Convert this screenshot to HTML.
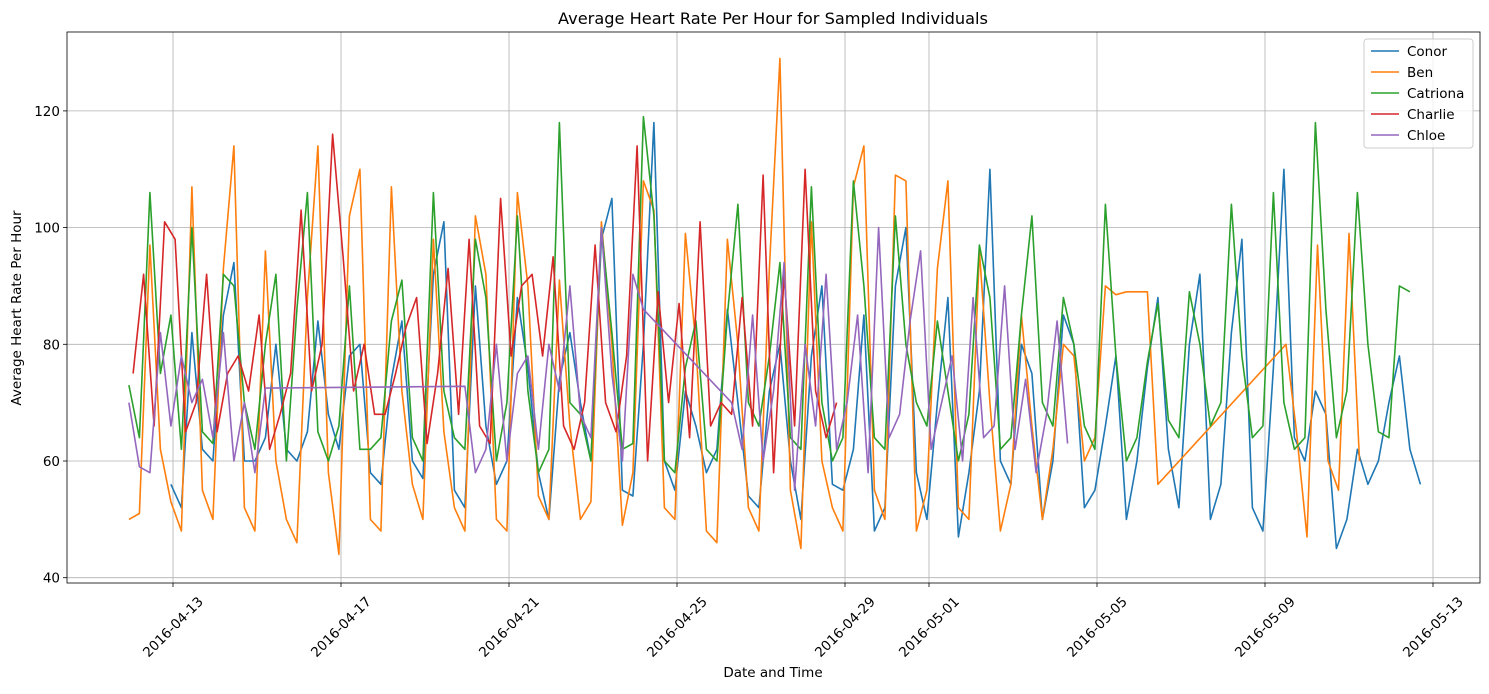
<!DOCTYPE html>
<html><head><meta charset="utf-8"><style>
body{margin:0;background:#fff;font-family:"DejaVu Sans","Liberation Sans",sans-serif}
</style></head><body>
<svg id="chart" width="1489" height="690" xmlns="http://www.w3.org/2000/svg" font-family="DejaVu Sans, Liberation Sans, sans-serif">
<rect width="1489" height="690" fill="#fff"/>
<text x="773" y="24" font-size="16.2" text-anchor="middle">Average Heart Rate Per Hour for Sampled Individuals</text>
<text x="773" y="677" font-size="13.5" text-anchor="middle">Date and Time</text>
<text transform="translate(21,308) rotate(-90)" font-size="13.5" text-anchor="middle">Average Heart Rate Per Hour</text>
<g id="grid"></g><g id="series"></g><g id="ticks"></g>
<rect x="67" y="32" width="1413" height="551" fill="none" stroke="#000" stroke-width="0.8"/>
<g id="legend"></g>
</svg>
<script>
const xTickDays=[0,4,8,12,16,18,22,26,30];
const xTickLabels=["2016-04-13","2016-04-17","2016-04-21","2016-04-25","2016-04-29","2016-05-01","2016-05-05","2016-05-09","2016-05-13"];
const yTicks=[40,60,80,100,120];
const seriesNames=["Conor","Ben","Catriona","Charlie","Chloe"];
const seriesColors=["#1f77b4","#ff7f0e","#2ca02c","#d62728","#9467bd"];
const step=0.25;
const conorSegs=[{t0:-0.05,v:[56,52,82,62,60,85,94,60,60,64,80,62,60,65,84,68,62,78,80,58,56,74,84,60,57,92,101,55,52,90,66,56,60,88,76,58,50,74,82,70,60,98,105,55,54,80,118,60,55,72,66,58,62,86,70,54,52,72,80,60,50,78,90,56,55,62,85,48,52,90,100,58,50,70,88,47,58,72,110,60,56,80,75,50,60,85,80,52,55,66,78,50,60,76,88,62,52,80,92,50,56,82,98,52,48,76,110,64,60,72,68,45,50,62,56,60,70,78,62,56]}];
const benSegs=[{t0:-1.05,v:[50,51,97,62,53,48,107,55,50,93,114,52,48,96,60,50,46,88,114,58,44,102,110,50,48,107,72,56,50,98,65,52,48,102,92,50,48,106,90,54,50,91,66,50,53,101,80,49,58,108,103,52,50,99,80,48,46,98,80,52,48,93,129,55,45,101,60,52,48,107,114,55,50,109,108,48,55,93,108,52,50,96,70,48,56,85,66,50,62,80,78,60,64,90,88.5,89]},{t0:22.95,v:[89,89,56]},{t0:26.5,v:[80,65,47,97,60,55,99,60]}];
const catrionaSegs=[{t0:-1.05,v:[73,64,106,75,85,62,100,65,63,92,90,70,62,80,92,60,86,106,65,60,66,90,62,62,64,84,91,64,60,106,72,64,62,98,88,60,70,102,72,58,62,118,70,68,60,100,82,62,63,119,102,60,58,76,84,62,60,85,104,70,66,78,94,64,62,107,70,60,64,108,90,64,62,102,80,70,66,84,72,60,68,97,88,62,64,85,102,70,66,88,80,66,62,104,78,60,64,77,87,67,64,89,80,66,70,104,78,64,66,106,70,62,64,118,86,64,72,106,80,65,64,90,89]}];
const charlieSegs=[{t0:-0.95,v:[75,92,66,101,98,65,70,92,65,75,78,72,85,62,68,75,103,72,80,116,95,72,80,68,68,75,83,88,63,75,93,68,98,66,63,105,78,90,92,78,95,66,62,70,97,70,65,78,114,60,89,70,87,64,101,66,70,68,88,66,109,58,92,66,110,72,64,70]}];
const chloeSegs=[{t0:-1.05,v:[70,59,58,82,66,78,70,74,64,82,60,70,58,72.5]},{t0:6.95,v:[72.8,58,62,80,60,75,78,62,80,72,90,68,64,100,75,60,92,86]},{t0:13.3,v:[70,62,85,60,72,94,55,80,66,92,62,70,85,58,100,64,68,84,96,62,70,78,60,88,64,66,90,62,74,58,68,84,63]}];
const allSegs=[conorSegs,benSegs,catrionaSegs,charlieSegs,chloeSegs];

const X0=67,X1=1480,Y0=32,Y1=583;
function xs(t){return 173+t*42;}
function ys(v){return 461-(v-60)*5.835;}
const NS="http://www.w3.org/2000/svg";
function mk(tag,attrs,parent){const e=document.createElementNS(NS,tag);for(const k in attrs)e.setAttribute(k,attrs[k]);parent.appendChild(e);return e;}
const grid=document.getElementById('grid'),ticks=document.getElementById('ticks');
xTickDays.forEach((d,i)=>{
  const x=xs(d);
  const g=mk('line',{x1:x,x2:x,y1:Y0,y2:Y1,stroke:'#b0b0b0','stroke-width':0.8},grid);
  
  
  const tk=mk('line',{x1:x,x2:x,y1:Y1,y2:Y1+4,stroke:'#000','stroke-width':0.8},ticks);
  
  
  const t=mk('text',{x:0,y:4.5,'font-size':13.5,'text-anchor':'middle',transform:`translate(${x},${627}) rotate(-45)`},ticks);
  t.textContent=xTickLabels[i];
  
  
});
yTicks.forEach(v=>{
  const y=ys(v);
  const g=mk('line',{x1:X0,x2:X1,y1:y,y2:y,stroke:'#b0b0b0','stroke-width':0.8},grid);
  
  
  const tk=mk('line',{x1:X0-4,x2:X0,y1:y,y2:y,stroke:'#000','stroke-width':0.8},ticks);
  
  
  const t=mk('text',{x:X0-7,y:y+5,'font-size':13.5,'text-anchor':'end'},ticks);
  t.textContent=v;
  
  
});
const sg=document.getElementById('series');
allSegs.forEach((segs,si)=>{
  const pts=[];
  segs.forEach(s=>s.v.forEach((v,j)=>pts.push(xs(s.t0+j*step).toFixed(1)+','+ys(v).toFixed(1))));
  const p=mk('polyline',{points:pts.join(' '),fill:'none',stroke:seriesColors[si],'stroke-width':1.6,'stroke-linejoin':'round'},sg);
  
  
});
const lg=document.getElementById('legend');
const box=mk('rect',{x:1364,y:39,width:109,height:109,rx:3,fill:'#fff','fill-opacity':0.8,stroke:'#ccc'},lg);


seriesNames.forEach((n,i)=>{
  const y=51+i*21;
  const l=mk('line',{x1:1371,x2:1399,y1:y,y2:y,stroke:seriesColors[i],'stroke-width':1.6},lg);
  
  
  const t=mk('text',{x:1407,y:y+5,'font-size':13.5},lg);
  t.textContent=n;
  
  
});
</script>
</body></html>
